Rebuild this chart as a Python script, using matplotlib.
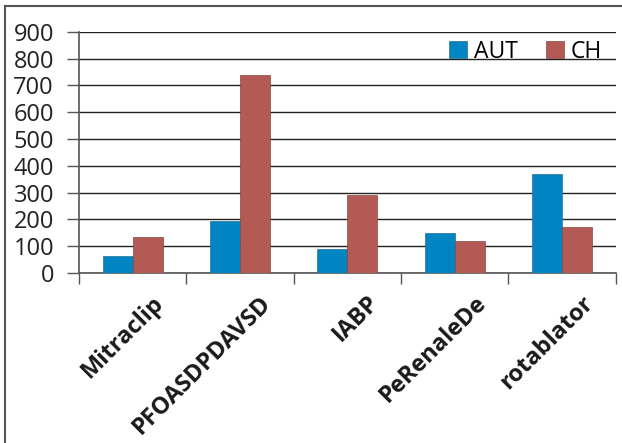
import matplotlib.pyplot as plt
import numpy as np
from matplotlib.lines import Line2D

categories = ["Mitraclip", "PFOASDPDAVSD", "IABP", "PeRenaleDe", "rotablator"]
aut = [63, 195, 90, 148, 370]
ch = [135, 738, 290, 119, 170]

plt.rcParams['font.family'] = ['Open Sans', 'DejaVu Sans']

fig = plt.figure(figsize=(6.22, 4.43), dpi=100)
ax = fig.add_axes([0.127, 0.384, 0.863, 0.544])

x = np.arange(len(categories))
w = 0.28
ax.bar(x - w / 2, aut, w, color='#0084C2', edgecolor='#2a6f95', linewidth=0.5, label='AUT', zorder=3)
ax.bar(x + w / 2, ch, w, color='#B45A55', edgecolor='#8a4541', linewidth=0.5, label='CH', zorder=3)

ax.set_xlim(-0.5, len(categories) - 0.5)
ax.set_ylim(0, 900)
ax.set_yticks(range(0, 901, 100))
ax.grid(axis='y', color='#222222', linewidth=1.0, zorder=0)
ax.tick_params(axis='y', labelsize=17, length=9, width=1, color='#555555', labelcolor='#222222', pad=9)

# ticks between categories
ax.set_xticks(np.arange(-0.5, len(categories), 1.0))
ax.set_xticklabels([])
ax.tick_params(axis='x', length=8, width=1, color='#555555')

# rotated category labels
for i, name in enumerate(categories):
    ax.annotate(name, xy=(x[i], 0), xycoords=('data', 'axes fraction'),
                xytext=(14, -13), textcoords='offset points',
                rotation=45, ha='right', va='top', rotation_mode='anchor',
                fontsize=17, fontweight='bold', color='#1a1a1a')

for s in ['top', 'right']:
    ax.spines[s].set_visible(False)
for s in ['left', 'bottom']:
    ax.spines[s].set_color('#555555')
    ax.spines[s].set_linewidth(1.2)

ax.legend(loc='upper right', bbox_to_anchor=(1.0, 1.025), ncol=2, frameon=False,
          fontsize=16.5, handlelength=0.8, handleheight=0.8, handletextpad=0.3,
          columnspacing=1.2, borderaxespad=0.2)

# outer frame
fig.add_artist(Line2D([0.008, 0.008], [0, 0.987], color='#555555', lw=1.5))
fig.add_artist(Line2D([0.008, 1.0], [0.987, 0.987], color='#555555', lw=1.5))

fig.savefig('out.png', dpi=100)
